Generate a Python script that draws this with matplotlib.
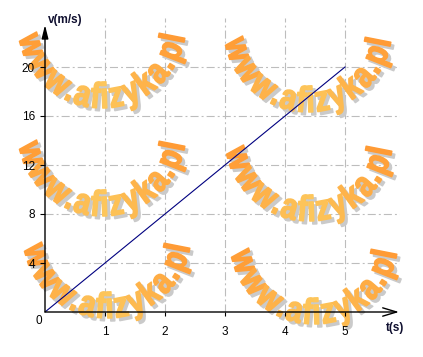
import matplotlib
matplotlib.use('Agg')
import matplotlib.pyplot as plt
import numpy as np
from matplotlib.textpath import TextPath
from matplotlib.font_manager import FontProperties
from matplotlib.patches import PathPatch
from matplotlib.transforms import Affine2D

plt.rcParams['font.family'] = ['Liberation Sans', 'DejaVu Sans']
plt.rcParams['lines.scale_dashes'] = False

# ---- data ----
t_values = [0, 5]
v_values = [0, 20]
x_ticks = [1, 2, 3, 4, 5]
y_ticks = [4, 8, 12, 16, 20]
x_label = "t(s)"
y_label = "v(m/s)"
watermark_text = "www.afizyka.pl"
# watermark arc centres (pixels, origin top-left)
wm_cx = [102, 308, 102, 309, 107, 314]
wm_cy = [24, 28, 132, 137, 234, 240]

W, H = 423, 357
fig = plt.figure(figsize=(W / 100, H / 100), dpi=100)
fig.patch.set_facecolor('white')
ax = fig.add_axes([45 / W, (H - 312) / H, 355 / W, 294 / H])
ax.set_xlim(0, 355 / 60)
ax.set_ylim(0, 294 / 12.25)
for s in ax.spines.values():
    s.set_visible(False)
ax.set_facecolor('none')

ax.set_xticks(x_ticks)
ax.set_yticks(y_ticks)
ax.set_xticklabels([str(x) for x in x_ticks])
ax.set_yticklabels([str(y) for y in y_ticks])
ax.tick_params(axis='x', direction='out', length=3, width=0.8, pad=7, labelsize=8.5)
ax.tick_params(axis='y', direction='out', length=3.6, width=0.8, pad=3.6, labelsize=8.5)
ax.set_axisbelow(False)

# grid drawn below the watermarks
grid_kw = dict(color='#bdbdbd', linewidth=0.8, dashes=(5.8, 2.2, 1.4, 2.2), zorder=0.5)
for xv in x_ticks:
    ax.axvline(xv, **grid_kw)
for yv in y_ticks:
    ax.axhline(yv, **grid_kw)

# data line
ax.plot(t_values, v_values, color='#000080', lw=0.8, zorder=5)

# axes with arrows
ax.annotate('', xy=(399 / 60 - 45 / 60, 0), xytext=(0, 0), xycoords='data',
            arrowprops=dict(arrowstyle='->,head_length=1.0,head_width=0.3',
                            lw=1.0, color='black', shrinkA=0, shrinkB=0),
            annotation_clip=False, zorder=6)
ax.annotate('', xy=(0, (312 - 25) / 12.25), xytext=(0, 0), xycoords='data',
            arrowprops=dict(arrowstyle='-|>,head_length=0.8,head_width=0.2',
                            lw=1.0, color='black', shrinkA=0, shrinkB=0),
            annotation_clip=False, zorder=6)

ax.text(-6.5 / 60, -9 / 12.25, "0", ha='center', va='center', fontsize=8.5,
        clip_on=False, zorder=6)
ax.text((65 - 45) / 60, (312 - 20) / 12.25, y_label, ha='center', va='center',
        fontsize=8.5, fontweight='bold', color='#101030', clip_on=False, zorder=6)
ax.text((395 - 45) / 60, -(328 - 312) / 12.25, x_label, ha='center', va='center',
        fontsize=8.5, fontweight='bold', color='#101030', clip_on=False, zorder=6)

# ---- watermarks (curved text) ----
fp = FontProperties(family=['Liberation Sans', 'DejaVu Sans'], weight='bold')
adv = {'w': .778, '.': .278, 'a': .556, 'f': .333, 'i': .278, 'z': .5,
       'y': .556, 'k': .556, 'p': .611, 'l': .278}
orange = np.array([1.0, 0.60, 0.20])
light = np.array([0.99, 0.78, 0.36])


def draw_mark(cx, cy):
    R = 84.0
    ex, ey = 29.0, 36.0
    Rm = 72.0
    widths = [adv[c] for c in watermark_text]
    total = sum(widths)
    span = total * ex / Rm
    start = -span / 2
    cum = 0.0
    for i, c in enumerate(watermark_text):
        phi = start + (cum + widths[i] / 2) * ex / Rm
        cum += widths[i]
        tp = TextPath((0, 0), c, size=1, prop=fp)
        f = min(1.0, abs(phi) / (span / 2))
        col = tuple(light + (orange - light) * (f ** 1.0))
        px = cx + R * np.sin(phi)
        py = (H - cy) - R * np.cos(phi)
        for dx, dy, cc, z in [(3, -3, '#cacaca', 1.1), (0, 0, col, 1.2)]:
            tr = (Affine2D().translate(-widths[i] / 2, 0).scale(ex, ey)
                  .rotate(phi).translate(px + dx, py + dy))
            patch = PathPatch(tp, transform=tr, facecolor=cc, edgecolor=cc,
                              linewidth=1.1, joinstyle='round',
                              zorder=z, clip_on=False)
            ax.add_artist(patch)


for cx, cy in zip(wm_cx, wm_cy):
    draw_mark(cx, cy)

fig.savefig('out.png', dpi=100)
